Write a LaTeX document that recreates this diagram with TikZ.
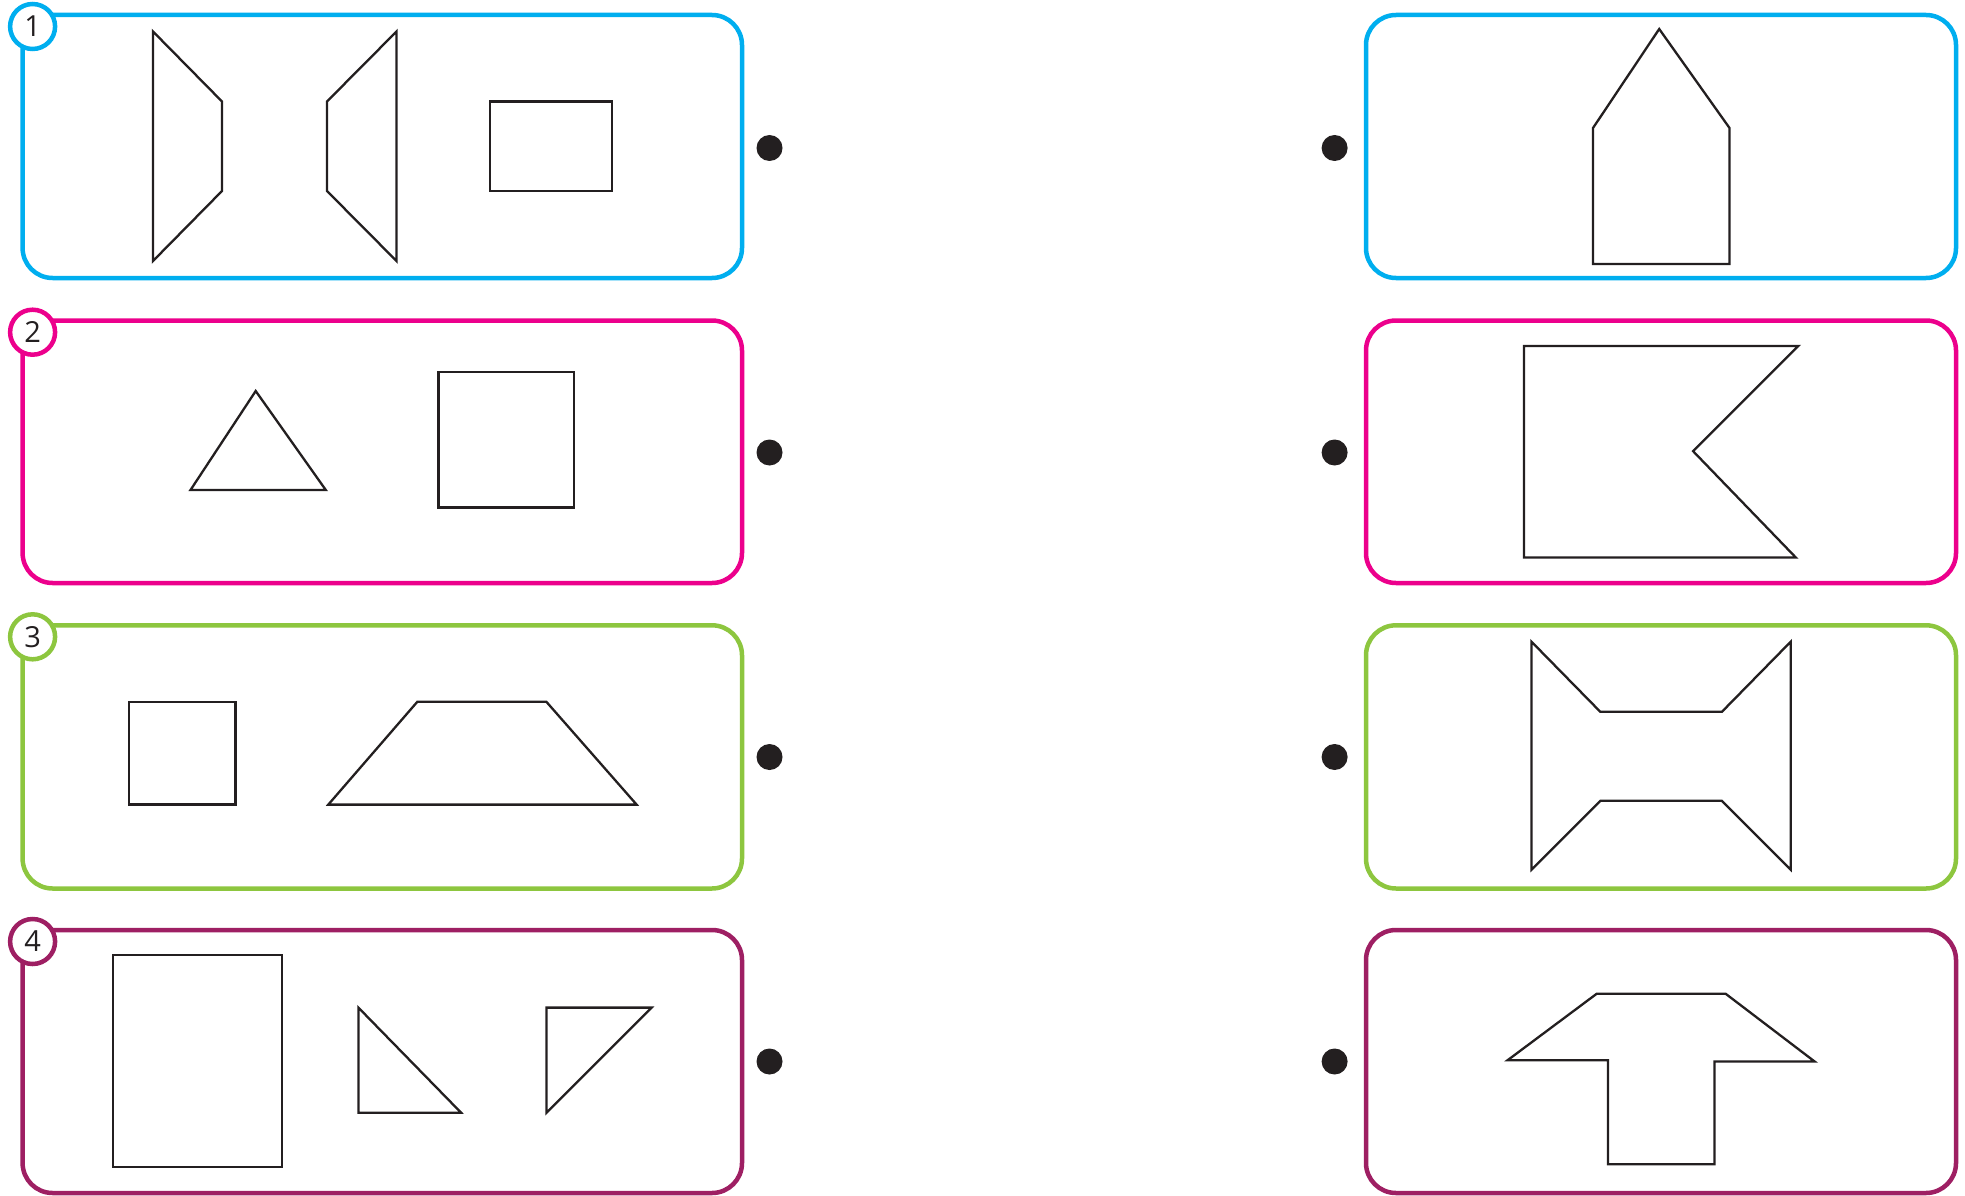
\documentclass[tikz,border=0pt]{standalone}
\usepackage{fontspec}
\setmainfont{Open Sans}
\definecolor{cA}{HTML}{00AEEF}
\definecolor{cB}{HTML}{EC008C}
\definecolor{cC}{HTML}{8DC63F}
\definecolor{cD}{HTML}{9E1F63}
\definecolor{ink}{HTML}{231F20}
\begin{document}
\begin{tikzpicture}[x=1pt,y=-1pt,
  panel/.style={line width=4.5pt, rounded corners=30pt},
  figline/.style={draw=ink, line width=2.3pt, line join=miter},
  badge/.style={circle, draw, fill=white, line width=4.5pt, minimum size=45pt, inner sep=0pt, text=ink, font=\fontsize{29}{29}\selectfont},
  dot/.style={circle, fill=ink, minimum size=26pt, inner sep=0pt}]
\useasboundingbox (0,0) rectangle (1965,1196);

% ---------- Row 1 ----------
\draw[panel, draw=cA] (22.6,15) rectangle (742,278);
\draw[panel, draw=cA] (1366,15) rectangle (1956,278);
\node[badge, draw=cA] (b1) at (32.6,26.5) {1};
\node[dot] (l1) at (769.5,148) {};
\node[dot] (r1) at (1334.6,148) {};
\draw[figline] (153,31.5) -- (222,101.5) -- (222,191) -- (153,261) -- cycle;
\draw[figline] (396.5,31.5) -- (327,101.5) -- (327,191) -- (396.5,261) -- cycle;
\draw[figline] (490,101.5) rectangle (612,191);
\draw[figline] (1659.2,29) -- (1729.5,128) -- (1729.5,264) -- (1593,264) -- (1593,128) -- cycle;

% ---------- Row 2 ----------
\draw[panel, draw=cB] (22.6,320.5) rectangle (742,583);
\draw[panel, draw=cB] (1366,320.5) rectangle (1956,583);
\node[badge, draw=cB] (b2) at (32.6,332.2) {2};
\node[dot] (l2) at (769.5,452.5) {};
\node[dot] (r2) at (1334.6,452.5) {};
\draw[figline] (255.7,391) -- (325.8,490) -- (190.5,490) -- cycle;
\draw[figline] (438.6,372.2) rectangle (574,507.5);
\draw[figline] (1524,346) -- (1798.3,346) -- (1693.1,451.2) -- (1795.8,557.5) -- (1524,557.5) -- cycle;

% ---------- Row 3 ----------
\draw[panel, draw=cC] (22.6,625.3) rectangle (742,888.5);
\draw[panel, draw=cC] (1366,625.3) rectangle (1956,888.5);
\node[badge, draw=cC] (b3) at (32.6,636.8) {3};
\node[dot] (l3) at (769.5,757) {};
\node[dot] (r3) at (1334.6,757) {};
\draw[figline] (129.1,701.8) rectangle (235.6,804.6);
\draw[figline] (328.3,804.6) -- (417.3,701.8) -- (546.4,701.8) -- (636.6,804.6) -- cycle;
\draw[figline] (1531.4,641.6) -- (1600.3,711.8) -- (1721.9,711.8) -- (1790.8,641.6) -- (1790.8,869.7) -- (1721.9,800.8) -- (1600.3,800.8) -- (1531.4,869.7) -- cycle;

% ---------- Row 4 ----------
\draw[panel, draw=cD] (22.6,930) rectangle (742,1193);
\draw[panel, draw=cD] (1366,930) rectangle (1956,1193);
\node[badge, draw=cD] (b4) at (32.6,941.5) {4};
\node[dot] (l4) at (769.5,1061.5) {};
\node[dot] (r4) at (1334.6,1061.5) {};
\draw[figline] (112.8,955) rectangle (282,1166.7);
\draw[figline] (358.4,1007.6) -- (461.2,1112.8) -- (358.4,1112.8) -- cycle;
\draw[figline] (546.4,1007.6) -- (651.7,1007.6) -- (546.4,1112.8) -- cycle;
\draw[figline] (1596.6,993.8) -- (1725.7,993.8) -- (1814.6,1061.5) -- (1714.4,1061.5) -- (1714.4,1164.2) -- (1607.9,1164.2) -- (1607.9,1060.2) -- (1507.6,1060.2) -- cycle;
\end{tikzpicture}
\end{document}
